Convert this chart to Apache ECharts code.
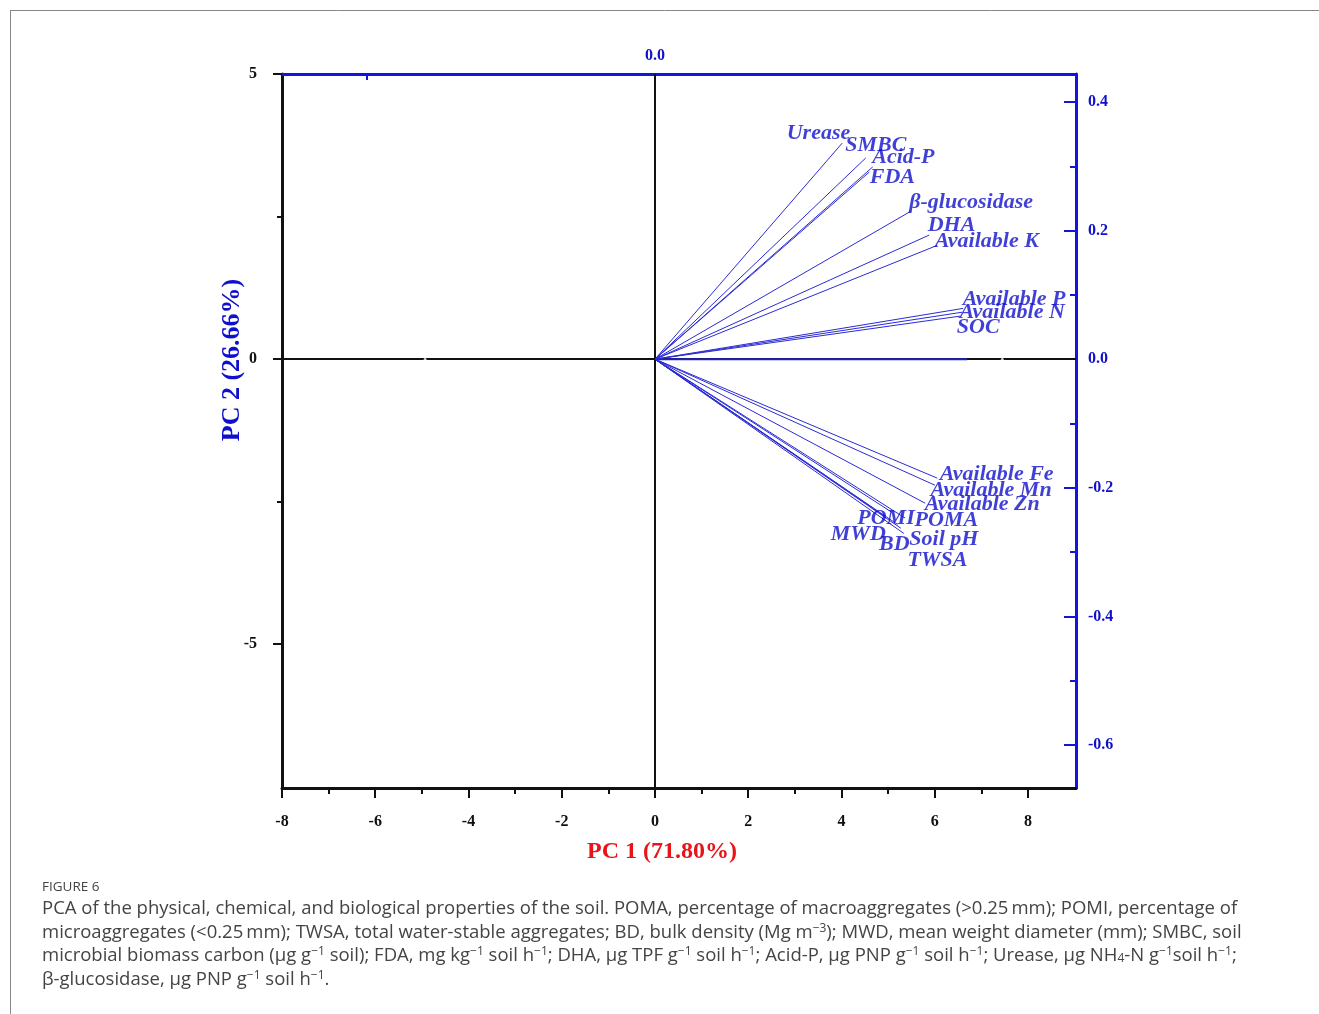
<!DOCTYPE html>
<html>
<head>
<meta charset="utf-8">
<script src="https://cdn.jsdelivr.net/npm/echarts@6/dist/echarts.min.js"></script>
<style>
html,body{margin:0;padding:0;background:#fff;}
#chart{width:1319px;height:1014px;}
</style>
</head>
<body>
<div id="chart"></div>
<script>
// ---- Data ----
const vectorNames = ['Urease','SMBC','Acid-P','FDA','\u03b2-glucosidase','DHA','Available K','Available P','Available N','SOC',
  'Available Fe','Available Mn','Available Zn','POMI','POMA','MWD','BD','Soil pH','TWSA'];
const loadingPC1 = [0.325,0.366,0.378,0.372,0.444,0.476,0.490,0.535,0.533,0.530,
  0.490,0.486,0.469,0.411,0.434,0.398,0.421,0.432,0.427];
const loadingPC2 = [0.336,0.313,0.299,0.291,0.230,0.193,0.177,0.079,0.073,0.067,
  -0.185,-0.196,-0.224,-0.238,-0.247,-0.244,-0.257,-0.271,-0.263];
const zeroSegmentPC1 = [0, 0.542];
const zeroSegmentPC2 = [0, 0];
const scorePC1 = [-4.93, 7.45];
const scorePC2 = [0, 0];

const xMajorTicks = [-8,-6,-4,-2,0,2,4,6,8];
const xMinorTicks = [-7,-5,-3,-1,1,3,5,7];
const yMajorTicks = [-5,0,5];
const yMinorTicks = [-2.5,2.5];
const rightMajorTicks = [-0.6,-0.4,-0.2,0,0.2,0.4];
const rightMinorTicks = [-0.5,-0.3,-0.1,0.1,0.3];
const topMajorTicks = [0];
const topMinorTicks = [-0.5];
const xTitle = 'PC 1 (71.80%)';
const yTitle = 'PC 2 (26.66%)';

// ---- Styling (label offsets in px relative to vector tip) ----
const labelOffsets = [[-55,-9],[-20,-12],[0,-9],[1,6],[-1,-8],[-1,-9],[-2,-4],[0,-9],[-2,1],[-3,12],
  [3,-3],[-4,6],[0,2],[-34,7],[10,3],[-53,19],[-18,20],[6,6],[7,33]];

const BLUE_AXIS = '#1414dc';
const BLUE_TXT = '#1010cc';
const BLUE_LINE = '#2a2ad4';
const SERIF = '"Liberation Serif","Times New Roman",serif';
const CAP_FONT = '18.5px "Open Sans", sans-serif';

const chart = echarts.init(document.getElementById('chart'));

const series = [];
series.push({
  type: 'scatter', xAxisIndex: 0, yAxisIndex: 0, z: 5,
  data: scorePC1.map((v,i)=>[v, scorePC2[i]]),
  symbol: 'triangle', symbolSize: 5,
  itemStyle: {color: '#ffffff'},
  silent: true,
  markLine: {
    silent: true, symbol: ['none','none'], label: {show:false},
    lineStyle: {color:'#111', width: 2, type: 'solid'},
    data: [{xAxis: 0}, {yAxis: 0}],
    z: 2
  }
});
series.push({
  type: 'line', xAxisIndex: 1, yAxisIndex: 1, z: 3,
  data: zeroSegmentPC1.map((v,i)=>[v, zeroSegmentPC2[i]]),
  symbol: 'none', lineStyle: {color: '#2020c0', width: 2}, silent: true
});
vectorNames.forEach((n,i)=>{
  series.push({
    type: 'line', xAxisIndex: 1, yAxisIndex: 1, z: 4,
    data: [[0,0],[loadingPC1[i], loadingPC2[i]]],
    symbol: 'none', lineStyle: {color: BLUE_LINE, width: 1}, silent: true
  });
});
series.push({
  type: 'scatter', xAxisIndex: 1, yAxisIndex: 1, z: 6,
  symbolSize: 1, itemStyle: {color: 'rgba(0,0,0,0)'}, silent: true,
  data: vectorNames.map((n,i)=>({
    value: [loadingPC1[i], loadingPC2[i]],
    name: n,
    label: {position: labelOffsets[i]}
  })),
  label: {
    show: true, formatter: p => p.name, align: 'left', verticalAlign: 'middle',
    color: BLUE_TXT, fontFamily: SERIF, fontStyle: 'italic', fontWeight: 'bold', fontSize: 22
  }
});

const hiddenLine = {show:false, onZero:false};

chart.setOption({
  animation: false,
  grid: {left: 282, right: 243, top: 74, bottom: 226, containLabel: false},
  xAxis: [
    { // 0 bottom score axis
      type: 'value', position: 'bottom', min: -8, max: 9.03,
      axisLine: {show: true, onZero: false, lineStyle: {color:'#111', width: 3}},
      axisTick: {show: true, inside: false, length: 10, customValues: xMajorTicks, lineStyle: {color:'#111', width: 2}},
      axisLabel: {show: true, customValues: xMajorTicks, margin: 26, color:'#111', fontFamily: SERIF, fontWeight:'bold', fontSize: 16},
      splitLine: {show:false}
    },
    { // 1 top loading axis
      type: 'value', position: 'top', min: -0.6476, max: 0.7309,
      axisLine: {show: true, onZero: false, lineStyle: {color: BLUE_AXIS, width: 3}},
      axisTick: {show: true, inside: true, length: 13, customValues: topMajorTicks, lineStyle: {color: BLUE_AXIS, width: 2}},
      axisLabel: {show: true, customValues: topMajorTicks, margin: 10, formatter: v => v.toFixed(1),
        color: BLUE_TXT, fontFamily: SERIF, fontWeight:'bold', fontSize: 16},
      splitLine: {show:false}
    },
    { // 2 bottom minor ticks
      type: 'value', position: 'bottom', min: -8, max: 9.03,
      axisLine: hiddenLine, splitLine: {show:false},
      axisTick: {show: true, inside: false, length: 6, customValues: xMinorTicks, lineStyle: {color:'#111', width: 2}},
      axisLabel: {show: false, customValues: xMinorTicks}
    },
    { // 3 top minor ticks
      type: 'value', position: 'top', min: -0.6476, max: 0.7309,
      axisLine: hiddenLine, splitLine: {show:false},
      axisTick: {show: true, inside: true, length: 6, customValues: topMinorTicks, lineStyle: {color: BLUE_AXIS, width: 2}},
      axisLabel: {show: false, customValues: topMinorTicks}
    }
  ],
  yAxis: [
    { // 0 left score axis
      type: 'value', position: 'left', min: -7.526, max: 5,
      axisLine: {show: true, onZero: false, lineStyle: {color:'#111', width: 3}},
      axisTick: {show: true, inside: false, length: 9, customValues: yMajorTicks, lineStyle: {color:'#111', width: 2}},
      axisLabel: {show: true, customValues: yMajorTicks, margin: 25, color:'#111', fontFamily: SERIF, fontWeight:'bold', fontSize: 16},
      splitLine: {show:false}
    },
    { // 1 right loading axis
      type: 'value', position: 'right', min: -0.6669, max: 0.4435,
      axisLine: {show: true, onZero: false, lineStyle: {color: BLUE_AXIS, width: 3}},
      axisTick: {show: true, inside: true, length: 12, customValues: rightMajorTicks, lineStyle: {color: BLUE_AXIS, width: 2}},
      axisLabel: {show: true, customValues: rightMajorTicks, margin: 12, formatter: v => v.toFixed(1),
        color: BLUE_TXT, fontFamily: SERIF, fontWeight:'bold', fontSize: 16},
      splitLine: {show:false}
    },
    { // 2 left minor
      type: 'value', position: 'left', min: -7.526, max: 5,
      axisLine: hiddenLine, splitLine: {show:false},
      axisTick: {show: true, inside: false, length: 5, customValues: yMinorTicks, lineStyle: {color:'#111', width: 2}},
      axisLabel: {show: false, customValues: yMinorTicks}
    },
    { // 3 right minor
      type: 'value', position: 'right', min: -0.6669, max: 0.4435,
      axisLine: hiddenLine, splitLine: {show:false},
      axisTick: {show: true, inside: true, length: 6, customValues: rightMinorTicks, lineStyle: {color: BLUE_AXIS, width: 2}},
      axisLabel: {show: false, customValues: rightMinorTicks}
    }
  ],
  series: series,
  graphic: [
    {type:'line', shape:{x1:10.5,y1:10,x2:10.5,y2:1014}, style:{stroke:'#888', lineWidth:1}, silent:true},
    {type:'line', shape:{x1:10,y1:10.5,x2:1319,y2:10.5}, style:{stroke:'#888', lineWidth:1}, silent:true},
    {type:'text', x: 662, y: 852, style:{text: xTitle, fill:'#e8141a', font:'bold 24px "Liberation Serif", serif',
      textAlign:'center', textVerticalAlign:'middle'}},
    {type:'text', x: 232, y: 360, rotation: Math.PI/2, style:{text: yTitle, fill: BLUE_TXT, font:'bold 26px "Liberation Serif", serif',
      textAlign:'center', textVerticalAlign:'middle'}},
    {type:'text', left: 42, top: 880, style:{text:'FIGURE 6', fill:'#444', font:'13.5px "Open Sans", sans-serif'}},
    {type:'text', left: 42, top: 899, style:{
      text: 'PCA of the physical, chemical, and biological properties of the soil. POMA, percentage of macroaggregates (>0.25\u2009mm); POMI, percentage of',
      fill:'#444', font: CAP_FONT}},
    {type:'text', left: 42, top: 923, style:{
      text: 'microaggregates (<0.25\u2009mm); TWSA, total water-stable aggregates; BD, bulk density (Mg m{s|\u22123}); MWD, mean weight diameter (mm); SMBC, soil',
      fill:'#444', font: CAP_FONT, rich:{s:{fontSize:12, verticalAlign:'top', fill:'#444', fontFamily:'"Open Sans", sans-serif'}}}},
    {type:'text', left: 42, top: 946, style:{
      text: 'microbial biomass carbon (\u03bcg g{s|\u22121} soil); FDA, mg kg{s|\u22121} soil h{s|\u22121}; DHA, \u03bcg TPF g{s|\u22121} soil h{s|\u22121}; Acid-P, \u03bcg PNP g{s|\u22121} soil h{s|\u22121}; Urease, \u03bcg NH{b|4}-N g{s|\u22121}soil h{s|\u22121};',
      fill:'#444', font: CAP_FONT, rich:{
        s:{fontSize:12, verticalAlign:'top', fill:'#444', fontFamily:'"Open Sans", sans-serif'},
        b:{fontSize:12, verticalAlign:'bottom', fill:'#444', fontFamily:'"Open Sans", sans-serif'}}}},
    {type:'text', left: 42, top: 970, style:{
      text: '\u03b2-glucosidase, \u03bcg PNP g{s|\u22121} soil h{s|\u22121}.',
      fill:'#444', font: CAP_FONT, rich:{s:{fontSize:12, verticalAlign:'top', fill:'#444', fontFamily:'"Open Sans", sans-serif'}}}}
  ]
});
</script>
</body>
</html>
